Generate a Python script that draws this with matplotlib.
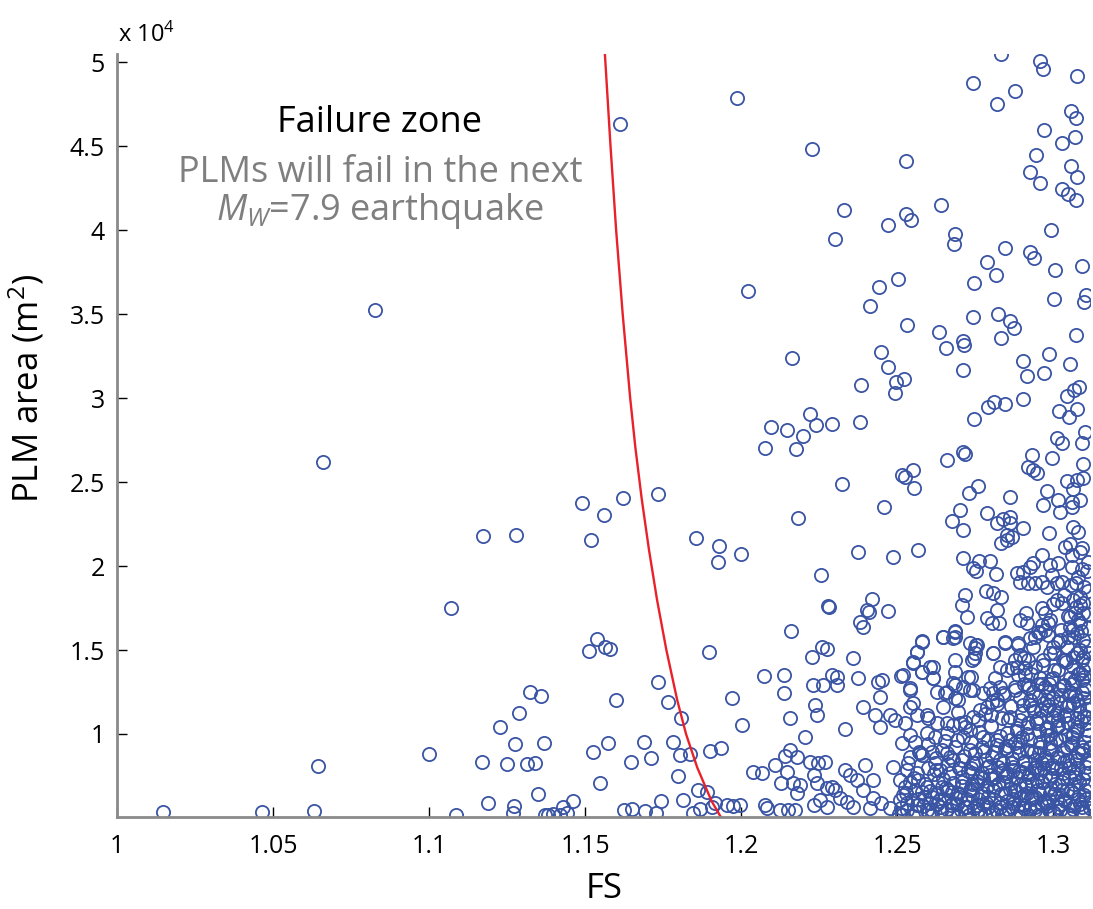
import numpy as np
import matplotlib
matplotlib.use('Agg')
import matplotlib.pyplot as plt
from matplotlib.ticker import FuncFormatter

plt.rcParams['font.family'] = ['Open Sans', 'DejaVu Sans']
plt.rcParams['mathtext.fontset'] = 'custom'
plt.rcParams['mathtext.rm'] = 'Open Sans'
plt.rcParams['mathtext.it'] = 'Open Sans:italic'

# PLMs left of / near the failure line (FS, area m2)
pts_left = [
    (1.0146, 5350), (1.0463, 5350), (1.0630, 5390), (1.0644, 8080), (1.0660, 26170), (1.0827, 35250),
    (1.1000, 8800), (1.1071, 17520), (1.1086, 5150), (1.1168, 8330), (1.1173, 21800), (1.1187, 5910),
    (1.1227, 10440), (1.1250, 8230), (1.1269, 5300), (1.1272, 5700), (1.1275, 9430), (1.1277, 21880),
    (1.1288, 11260), (1.1312, 8230), (1.1323, 12490), (1.1339, 8270), (1.1349, 6440), (1.1357, 12290),
    (1.1369, 9490), (1.1371, 5200), (1.1381, 5150), (1.1397, 5250), (1.1419, 5150), (1.1429, 5660),
    (1.1440, 5300), (1.1462, 6010), (1.1488, 23750), (1.1513, 14950), (1.1520, 21550), (1.1524, 8900),
    (1.1538, 15650), (1.1547, 7090), (1.1560, 23040), (1.1563, 15200), (1.1579, 15040), (1.1574, 9450),
    (1.1598, 12030), (1.1610, 46310), (1.1620, 24070), (1.1625, 5470), (1.1646, 8310), (1.1649, 5510),
    (1.1689, 9540), (1.1691, 5430), (1.1710, 8550), (1.1727, 5280), (1.1734, 24280), (1.1734, 13080),
    (1.1743, 6010), (1.1764, 11920), (1.1782, 9510), (1.1798, 7520), (1.1803, 8750), (1.1807, 10940),
    (1.1814, 6070), (1.1835, 8790), (1.1846, 5280), (1.1854, 21660), (1.1862, 6660), (1.1868, 5520),
    (1.1889, 6560), (1.1896, 14870), (1.1900, 8990), (1.1905, 5640), (1.1916, 5870), (1.1924, 20230),
    (1.1929, 21200), (1.1935, 9180), (1.1953, 5770), (1.1969, 12160), (1.1974, 5710), (1.1986, 47880),
    (1.1996, 5770), (1.1998, 20700), (1.2003, 10540), (1.2021, 36390),
]

# upper part of the cloud
pts_upper = [
    (1.2226, 44840), (1.2527, 44150), (1.2831, 50480), (1.2958, 50080), (1.2968, 49590), (1.3077, 49170),
    (1.2744, 48760), (1.2876, 48320), (1.2819, 47520), (1.3056, 47110), (1.3073, 46710), (1.2969, 45960),
    (1.3071, 45560), (1.3027, 45220), (1.2946, 44490), (1.3056, 43830), (1.3075, 43160), (1.2924, 43460),
    (1.2957, 42800), (1.3027, 42440), (1.3048, 42140), (1.3072, 41810), (1.2993, 40020), (1.2641, 41530),
    (1.2329, 41210), (1.2301, 39460), (1.2469, 40330), (1.2528, 40970), (1.2543, 40610), (1.2685, 39780),
    (1.2681, 39200), (1.2846, 38930), (1.2925, 38730), (1.2939, 38370), (1.2787, 38130), (1.2816, 37340),
    (1.2746, 36880), (1.3006, 37620), (1.3093, 37870), (1.3105, 36150), (1.3099, 35710), (1.3001, 35930),
    (1.2504, 37100), (1.2442, 36620), (1.2412, 35490), (1.2744, 34820), (1.2822, 35030), (1.2861, 34600),
    (1.2873, 34180), (1.2832, 33570), (1.2531, 34380), (1.2634, 33960), (1.2655, 32970), (1.2712, 33420),
    (1.2714, 33170), (1.3074, 33750), (1.2163, 32380), (1.2447, 32770), (1.2471, 31840), (1.2495, 30980),
    (1.2521, 31160), (1.2492, 30290), (1.2385, 30800), (1.2712, 31660), (1.2904, 32220), (1.2915, 31320),
    (1.2987, 32610), (1.2972, 31500), (1.3053, 32040), (1.3045, 30130), (1.3066, 30490), (1.3083, 30650),
    (1.2902, 29950), (1.2810, 29790), (1.2790, 29490), (1.2845, 29650), (1.2747, 28740), (1.3018, 29240),
    (1.3077, 29340), (1.3050, 28860), (1.2220, 29040), (1.2239, 28400), (1.2292, 28460), (1.2380, 28600),
    (1.2094, 28270), (1.2146, 28110),
]

# middle band
pts_mid = [
    (1.2199, 27750), (1.2076, 27050), (1.2175, 26960), (1.3011, 27650), (1.3027, 27350), (1.3091, 27310),
    (1.3102, 28000), (1.2661, 26320), (1.2712, 26810), (1.2717, 26660), (1.2933, 26620), (1.2920, 25920),
    (1.2936, 25720), (1.2947, 25560), (1.2997, 26420), (1.3094, 26060), (1.3096, 25230), (1.3075, 25130),
    (1.3043, 25070), (1.3064, 24570), (1.2324, 24890), (1.2514, 25430), (1.2525, 25320), (1.2551, 25720),
    (1.2554, 24670), (1.2730, 24340), (1.2758, 24770), (1.2861, 24130), (1.2979, 24490), (1.3016, 23940),
    (1.3059, 23840), (1.3086, 23940), (1.2968, 23640), (1.3021, 23240), (1.3059, 23500), (1.2457, 23540),
    (1.2181, 22880), (1.2701, 23340), (1.2674, 22700), (1.2712, 22150), (1.2787, 23140), (1.2819, 22550),
    (1.2840, 22790), (1.2861, 22940), (1.2863, 22590), (1.2904, 22250), (1.2851, 21850), (1.2831, 21390),
    (1.2851, 21550), (1.2867, 21750), (1.2987, 21950), (1.3062, 22350), (1.3080, 22050), (1.3038, 21160),
    (1.3053, 21320), (1.3086, 20860), (1.3091, 21060), (1.2375, 20820), (1.2487, 20520), (1.2567, 20960),
    (1.2255, 19470), (1.2712, 20460), (1.2744, 19870), (1.2762, 20300), (1.2797, 20320), (1.2816, 19530),
    (1.2754, 19730), (1.2883, 19570), (1.2904, 19670), (1.2925, 19960), (1.2936, 20170), (1.2963, 20640),
    (1.2989, 20070), (1.3016, 20170), (1.2995, 19470), (1.3027, 19070), (1.3059, 19960), (1.2893, 19070),
    (1.2920, 18980), (1.2941, 19010), (1.2963, 19070), (1.3011, 18980), (1.2979, 18770), (1.2784, 18540),
    (1.2808, 18420), (1.2831, 18180), (1.2717, 18280), (1.2706, 17680), (1.2722, 16990), (1.2819, 17390),
    (1.2893, 16790), (1.2913, 17190), (1.2973, 17190), (1.3000, 17740), (1.3027, 17780), (1.3086, 18180),
    (1.3064, 17980), (1.3096, 17780), (1.2973, 16190), (1.2957, 16000), (1.2941, 15800), (1.2963, 16490),
    (1.2984, 16590), (1.2787, 16890), (1.2803, 16590), (1.2827, 16590), (1.2420, 18020), (1.2402, 17390),
    (1.2410, 17280), (1.2471, 17330), (1.2380, 16690), (1.2389, 16360), (1.2278, 17600), (1.2282, 17540),
    (1.2158, 16150), (1.2647, 15800), (1.2685, 16150), (1.2685, 15760), (1.2578, 15560), (1.2564, 14900),
    (1.2551, 14250), (1.2733, 15440), (1.2749, 15100), (1.2746, 14510), (1.2754, 15300), (1.2808, 14810),
    (1.2845, 15440), (1.2888, 15300), (1.2893, 14710), (1.2884, 14010), (1.2867, 13910), (1.2909, 13910),
    (1.2920, 14410), (1.2968, 14410), (1.2989, 14810), (1.3000, 15200), (1.3021, 15600), (1.3048, 15760),
    (1.3075, 16000), (1.3086, 16590), (1.3053, 16990), (1.3070, 17190), (1.3080, 16790), (1.3059, 16190),
    (1.3096, 15600), (1.3043, 15200), (1.3075, 14810), (1.3032, 14410), (1.3064, 14010), (1.3086, 13620),
    (1.2359, 14510), (1.2228, 14570), (1.2258, 15200), (1.2274, 15040),
]

# lower band between the line and FS = 1.25
pts_low = [
    (1.2073, 13450), (1.2137, 13500), (1.2137, 12420), (1.2156, 10940), (1.2231, 12920), (1.2263, 12920),
    (1.2290, 13510), (1.2306, 13410), (1.2306, 12920), (1.2375, 13320), (1.2439, 13120), (1.2450, 13220),
    (1.2512, 13450), (1.2445, 12220), (1.2541, 12620), (1.2551, 11830), (1.2605, 14010), (1.2615, 13320),
    (1.2578, 13710), (1.2626, 12520), (1.2653, 12420), (1.2679, 13020), (1.2685, 12130), (1.2696, 12030),
    (1.2712, 12820), (1.2738, 13410), (1.2744, 12620), (1.2776, 12420), (1.2808, 12420), (1.2391, 11630),
    (1.2236, 11730), (1.2244, 11130), (1.2332, 10280), (1.2204, 9800), (1.2445, 10430), (1.2429, 11130),
    (1.2477, 11130), (1.2493, 10830),
    (1.2038, 7750), (1.2065, 7690), (1.2076, 5770), (1.2081, 5570), (1.2124, 5470), (1.2151, 5470),
    (1.2172, 5470), (1.2108, 8150), (1.2140, 8690), (1.2156, 9050), (1.2178, 8650), (1.2146, 7750),
    (1.2129, 7100), (1.2167, 7060), (1.2189, 6960), (1.2178, 6470),
    (1.2220, 8350), (1.2247, 8250), (1.2268, 8350), (1.2232, 7560), (1.2244, 7060), (1.2274, 6770),
    (1.2290, 6860), (1.2301, 6670), (1.2317, 6170), (1.2252, 6070), (1.2232, 5770), (1.2274, 5670),
    (1.2338, 5970), (1.2359, 5670), (1.2332, 7860), (1.2348, 7560), (1.2370, 7260), (1.2396, 8150),
    (1.2423, 7260), (1.2391, 6670), (1.2423, 6170), (1.2412, 5570), (1.2449, 5870), (1.2476, 5570),
    (1.2508, 6070), (1.2487, 8050), (1.2508, 7260),
]

# dense cluster, lower right
pts_dense = [
    (1.2648, 15797), (1.2685, 16095), (1.2680, 15698), (1.2578, 15499), (1.2562, 14904), (1.2552, 14308),
    (1.2616, 14010), (1.2578, 13712), (1.2616, 13315), (1.2520, 13514), (1.2541, 12720), (1.2685, 14407),
    (1.2685, 13712), (1.2755, 15301), (1.2749, 14804), (1.2739, 14407), (1.2808, 14804), (1.2845, 15499),
    (1.2888, 15400), (1.2829, 14010), (1.2851, 13812), (1.2877, 14407), (1.2888, 13514), (1.2813, 13315),
    (1.2797, 12720), (1.2829, 12819), (1.2877, 12819), (1.2920, 12918), (1.2958, 13315), (1.3000, 13315),
    (1.3016, 13812), (1.3038, 14407), (1.3064, 14606), (1.3091, 14407), (1.3096, 13812), (1.3091, 13216),
    (1.3091, 12521), (1.3054, 12521), (1.3064, 11826), (1.3022, 11826), (1.2979, 12025), (1.2936, 12521),
    (1.2893, 12124), (1.2840, 12422), (1.2803, 11926), (1.2765, 11429), (1.2728, 13414), (1.2733, 12620),
    (1.2685, 12918), (1.2659, 12521), (1.2648, 11628), (1.2696, 11330), (1.2680, 10536), (1.2717, 10735),
    (1.2744, 11032), (1.2787, 11628), (1.2819, 12025), (1.2856, 10834), (1.2899, 11231), (1.2936, 11529),
    (1.2979, 11429), (1.3011, 11231), (1.3043, 11132), (1.3086, 11330), (1.3107, 11032), (1.2541, 11628),
    (1.2562, 11132), (1.2594, 11132), (1.2626, 10635), (1.2659, 10635), (1.2701, 10635), (1.2733, 10238),
    (1.2776, 9841), (1.2819, 9642), (1.2851, 10040), (1.2883, 10337), (1.2915, 10437), (1.2947, 10635),
    (1.2979, 10437), (1.3011, 10437), (1.3048, 10635), (1.3075, 10437), (1.3107, 10238), (1.2525, 10635),
    (1.2514, 9444), (1.2557, 9543), (1.2594, 10040), (1.2621, 9841), (1.2659, 10040), (1.2691, 9642),
    (1.2733, 9047), (1.2771, 9245), (1.2803, 8650), (1.2851, 9047), (1.2883, 9245), (1.2915, 9047),
    (1.2958, 9245), (1.2990, 9444), (1.3022, 9642), (1.3059, 9444), (1.3091, 9245), (1.3118, 9245),
    (1.2541, 8650), (1.2573, 8848), (1.2610, 8948), (1.2642, 9047), (1.2669, 8650), (1.2707, 8451),
    (1.2744, 8253), (1.2787, 8054), (1.2829, 8451), (1.2867, 8253), (1.2904, 8253), (1.2941, 8451),
    (1.2979, 8451), (1.3011, 8650), (1.3043, 8451), (1.3075, 8451), (1.3107, 8451), (1.2530, 7856),
    (1.2562, 7657), (1.2600, 7955), (1.2637, 7856), (1.2669, 7657), (1.2707, 7459), (1.2739, 7657),
    (1.2776, 7359), (1.2813, 7459), (1.2851, 7657), (1.2883, 7459), (1.2920, 7459), (1.2958, 7657),
    (1.2995, 7558), (1.3032, 7657), (1.3070, 7459), (1.3102, 7657), (1.2525, 6863), (1.2557, 6664),
    (1.2594, 6863), (1.2626, 6466), (1.2664, 6664), (1.2696, 6466), (1.2733, 6664), (1.2771, 6466),
    (1.2808, 6664), (1.2845, 6466), (1.2877, 6664), (1.2915, 6466), (1.2952, 6664), (1.2990, 6466),
    (1.3027, 6664), (1.3064, 6466), (1.3102, 6664), (1.2530, 5870), (1.2568, 5771), (1.2605, 5870),
    (1.2637, 5672), (1.2680, 5870), (1.2717, 5672), (1.2755, 5771), (1.2792, 5672), (1.2829, 5870),
    (1.2867, 5672), (1.2904, 5771), (1.2941, 5672), (1.2979, 5870), (1.3016, 5672), (1.3054, 5771),
    (1.3091, 5672), (1.3123, 5870),
    (1.2845, 5250), (1.2870, 6150), (1.2895, 5350), (1.2910, 7050), (1.2930, 6250), (1.2950, 5150),
    (1.2965, 7150), (1.2985, 6050), (1.3000, 5350), (1.3020, 6950), (1.3035, 6150), (1.3050, 5250),
    (1.3065, 7050), (1.3080, 6150), (1.3095, 5350), (1.3110, 6950), (1.3105, 8050), (1.3080, 7950),
    (1.3055, 8150), (1.3025, 7950), (1.2995, 8150), (1.2970, 7950), (1.2940, 8050), (1.2900, 7750),
    (1.2870, 8050), (1.2840, 7850), (1.2820, 9350), (1.2860, 9650), (1.2890, 8850), (1.2925, 9650),
    (1.2955, 8850), (1.2990, 9950), (1.3030, 9050), (1.3060, 9850), (1.3095, 9050), (1.3110, 9950),
    (1.3100, 11050), (1.3075, 10950), (1.3045, 11650), (1.3015, 10850), (1.2985, 11650), (1.2955, 10950),
    (1.2925, 11750), (1.2895, 10850), (1.2865, 11650), (1.2835, 10950), (1.3070, 12250), (1.3030, 12850),
    (1.3000, 12150), (1.2965, 12950), (1.2930, 13550), (1.3055, 13350), (1.3105, 12850), (1.3110, 14150),
    (1.2780, 5250), (1.2760, 6150), (1.2740, 7050), (1.2720, 5350), (1.2700, 6250), (1.2675, 5250),
    (1.2650, 6150), (1.2630, 7150), (1.2610, 5450), (1.2585, 6250), (1.2560, 5350), (1.2540, 7150),
    (1.2520, 6350), (1.2505, 5250), (1.2700, 7950), (1.2750, 8850), (1.2790, 9650), (1.2660, 8850),
    (1.2620, 8250), (1.2580, 8750), (1.2540, 9950), (1.2600, 10950), (1.2710, 9850), (1.2760, 10850),
    (1.2800, 11150),
]

# extra overlapping circles inside the solid corner
pts_corner = [
    (1.2512, 5600), (1.2527, 6500), (1.2534, 8300), (1.2549, 5100), (1.2553, 7400), (1.2566, 6100),
    (1.2571, 8900), (1.2583, 5700), (1.2589, 7000), (1.2597, 9400), (1.2604, 6600), (1.2611, 5200),
    (1.2618, 7600), (1.2625, 8600), (1.2633, 6000), (1.2641, 5400), (1.2646, 7300), (1.2654, 9600),
    (1.2657, 6800), (1.2663, 8200), (1.2672, 5800), (1.2678, 7100), (1.2686, 9200), (1.2689, 6200),
    (1.2694, 5100), (1.2698, 8000),
    (1.2703, 5500), (1.2709, 6900), (1.2714, 8700), (1.2718, 10400), (1.2723, 6100), (1.2727, 7800),
    (1.2731, 5200), (1.2736, 9500), (1.2741, 6700), (1.2747, 5600), (1.2752, 8300), (1.2756, 7200),
    (1.2761, 10100), (1.2764, 5300), (1.2768, 6300), (1.2772, 7700), (1.2777, 9000), (1.2781, 11200),
    (1.2784, 5900), (1.2788, 6900), (1.2793, 8100), (1.2796, 5200), (1.2801, 10500), (1.2805, 7300),
    (1.2809, 6100), (1.2813, 8900), (1.2817, 5500), (1.2821, 11800), (1.2824, 7000), (1.2828, 9900),
    (1.2832, 6400), (1.2836, 5200), (1.2839, 8300), (1.2843, 12300), (1.2847, 7500), (1.2852, 6000),
    (1.2855, 9300), (1.2859, 5400), (1.2862, 11000), (1.2866, 7100), (1.2869, 8600), (1.2873, 5900),
    (1.2877, 12600), (1.2881, 6600), (1.2884, 10200), (1.2887, 5100), (1.2891, 7800), (1.2894, 9600),
    (1.2898, 6200),
    (1.2902, 11700), (1.2905, 5600), (1.2908, 8400), (1.2911, 13500), (1.2914, 6900), (1.2917, 10000),
    (1.2920, 5200), (1.2923, 7600), (1.2926, 12000), (1.2929, 9000), (1.2932, 6100), (1.2935, 15200),
    (1.2938, 8000), (1.2941, 5500), (1.2944, 10800), (1.2947, 7200), (1.2950, 13000), (1.2953, 6500),
    (1.2956, 9500), (1.2959, 5100), (1.2962, 11400), (1.2965, 8300), (1.2968, 14100), (1.2971, 6000),
    (1.2974, 7500), (1.2977, 10300), (1.2980, 5700), (1.2983, 12500), (1.2986, 9100), (1.2989, 16800),
    (1.2992, 6700), (1.2995, 8000), (1.2998, 11000), (1.3001, 5300), (1.3004, 13800), (1.3007, 7000),
    (1.3010, 9700), (1.3013, 6200), (1.3016, 15500), (1.3019, 8600), (1.3022, 5500), (1.3025, 12300),
    (1.3028, 10400), (1.3031, 7400), (1.3034, 18300), (1.3037, 6000), (1.3040, 14300), (1.3043, 9200),
    (1.3046, 5200), (1.3049, 11700), (1.3052, 8000), (1.3055, 16400), (1.3058, 6600), (1.3061, 13000),
    (1.3064, 10000), (1.3067, 5700), (1.3070, 7600), (1.3073, 19000), (1.3076, 12000), (1.3079, 8900),
    (1.3082, 6300), (1.3085, 15000), (1.3088, 10800), (1.3091, 5300), (1.3094, 17200), (1.3097, 7300),
    (1.3100, 13400), (1.3103, 9500), (1.3106, 6100), (1.3109, 11500), (1.3112, 18500), (1.3115, 8300),
    (1.3118, 5600), (1.3116, 14800), (1.3113, 16300), (1.3108, 19700), (1.3102, 12700), (1.3095, 14600),
    (1.3087, 17700), (1.3078, 13600), (1.3068, 15800), (1.3057, 18900), (1.3047, 17000), (1.3036, 12900),
    (1.3026, 16200), (1.3012, 18000), (1.3003, 14800), (1.2993, 13300), (1.2982, 15900), (1.2973, 12800),
    (1.2963, 17500), (1.2950, 16100), (1.2940, 14000), (1.2927, 15700), (1.2915, 16600), (1.2906, 14500),
]

# more circles where the corner is solid blue
pts_fill = [
    (1.2758, 5450), (1.2766, 7450), (1.2774, 5850), (1.2782, 8450), (1.2790, 6250), (1.2798, 7550),
    (1.2806, 5350), (1.2814, 6850), (1.2822, 8050), (1.2830, 5650), (1.2838, 7150), (1.2846, 9150),
    (1.2854, 5550), (1.2862, 6750), (1.2870, 7850), (1.2878, 9450), (1.2886, 5750), (1.2893, 6950),
    (1.2900, 9850), (1.2907, 6350), (1.2913, 7950), (1.2919, 10650), (1.2925, 5550), (1.2931, 7050),
    (1.2937, 8950), (1.2943, 6250), (1.2949, 7850), (1.2955, 10150), (1.2961, 5850), (1.2967, 6750),
    (1.2973, 8650), (1.2979, 9950), (1.2985, 5450), (1.2991, 7350), (1.2997, 9050), (1.3003, 6450),
    (1.3009, 7950), (1.3015, 10450), (1.3021, 5850), (1.3027, 7150), (1.3033, 8350), (1.3039, 9950),
    (1.3045, 6650), (1.3051, 7450), (1.3057, 9350), (1.3063, 5550), (1.3069, 8550), (1.3075, 10250),
    (1.3081, 7150), (1.3087, 5850), (1.3093, 8850), (1.3099, 6350), (1.3105, 10650), (1.3111, 7650),
    (1.3117, 9150), (1.3114, 11750), (1.3098, 12150), (1.3082, 11650), (1.3066, 13150), (1.3050, 12350),
    (1.3034, 11050), (1.3018, 12650), (1.3002, 11450), (1.2986, 12950), (1.2970, 11850), (1.2954, 12250),
    (1.2938, 11350), (1.2922, 12750), (1.2906, 12950),
    (1.2515, 5150), (1.2531, 5450), (1.2547, 6050), (1.2563, 5750), (1.2579, 6550), (1.2595, 5450),
    (1.2611, 6250), (1.2627, 5850), (1.2643, 6850), (1.2659, 5550), (1.2675, 6550), (1.2691, 5850),
    (1.2707, 7150), (1.2723, 5650), (1.2739, 6350), (1.2755, 7050), (1.2567, 7250), (1.2623, 7850),
    (1.2679, 8450), (1.2735, 7950),
    (1.3104, 15250), (1.3090, 16150), (1.3072, 17550), (1.3110, 17150), (1.3098, 18750), (1.3080, 19350),
    (1.3112, 20250), (1.3060, 20650), (1.3093, 19850),
]

# failure threshold curve for the Mw 7.9 event
line_fs = [1.1563, 1.1581, 1.1599, 1.1620, 1.1644, 1.1661, 1.1681, 1.1704,
           1.1730, 1.1760, 1.1795, 1.1823, 1.1859, 1.1905, 1.1935]
line_area = [50480, 45000, 40000, 35000, 30000, 27000, 24000, 21000,
             18000, 15000, 12000, 10000, 8000, 6000, 5040]

all_pts = np.array(pts_left + pts_upper + pts_mid + pts_low + pts_dense + pts_corner + pts_fill)
fs = all_pts[:, 0]
area = all_pts[:, 1]

fig = plt.figure(figsize=(10.93, 9.09), dpi=100)
ax = fig.add_axes([0.1073, 0.1009, 0.89, 0.8394])

ax.plot(fs, area, 'o', mfc='none', mec='#3a54a4', ms=9.5, mew=1.3, ls='none')
ax.plot(line_fs, line_area, color='#e8212b', lw=1.7)

ax.set_xlim(1.0, 1.3118)
ax.set_ylim(5040, 50480)
ax.set_xticks([1.0, 1.05, 1.1, 1.15, 1.2, 1.25, 1.3])
ax.set_yticks(np.arange(10000, 50001, 5000))
ax.xaxis.set_major_formatter(FuncFormatter(lambda v, p: f'{v:g}'))
ax.yaxis.set_major_formatter(FuncFormatter(lambda v, p: f'{v / 1e4:g}'))

for s in ['top', 'right']:
    ax.spines[s].set_visible(False)
for s in ['left', 'bottom']:
    ax.spines[s].set_color('#8a8a8a')
    ax.spines[s].set_linewidth(2)
ax.tick_params(direction='in', length=7, width=1, color='black', labelsize=18)
ax.tick_params(axis='y', pad=9)
ax.tick_params(axis='x', pad=12)

ax.set_xlabel('FS', fontsize=25, va='center')
ax.xaxis.set_label_coords(0.5, -0.094)
ax.set_ylabel('PLM area (m$^2$)', fontsize=25, va='center')
ax.yaxis.set_label_coords(-0.0928, 0.5627)

fig.text(118 / 1093, 1 - 42 / 909, 'x 10$^4$', fontsize=17, ha='left', va='baseline')

ax.text(1.0842, 45850, 'Failure zone', fontsize=26, color='black', ha='center', va='baseline')
ax.text(1.0842, 42900, 'PLMs will fail in the next', fontsize=26, color='#7f7f7f',
        ha='center', va='baseline')
ax.text(1.0842, 40610, '$M_W$=7.9 earthquake', fontsize=26, color='#7f7f7f',
        ha='center', va='baseline')

fig.savefig('out.png', dpi=100)
